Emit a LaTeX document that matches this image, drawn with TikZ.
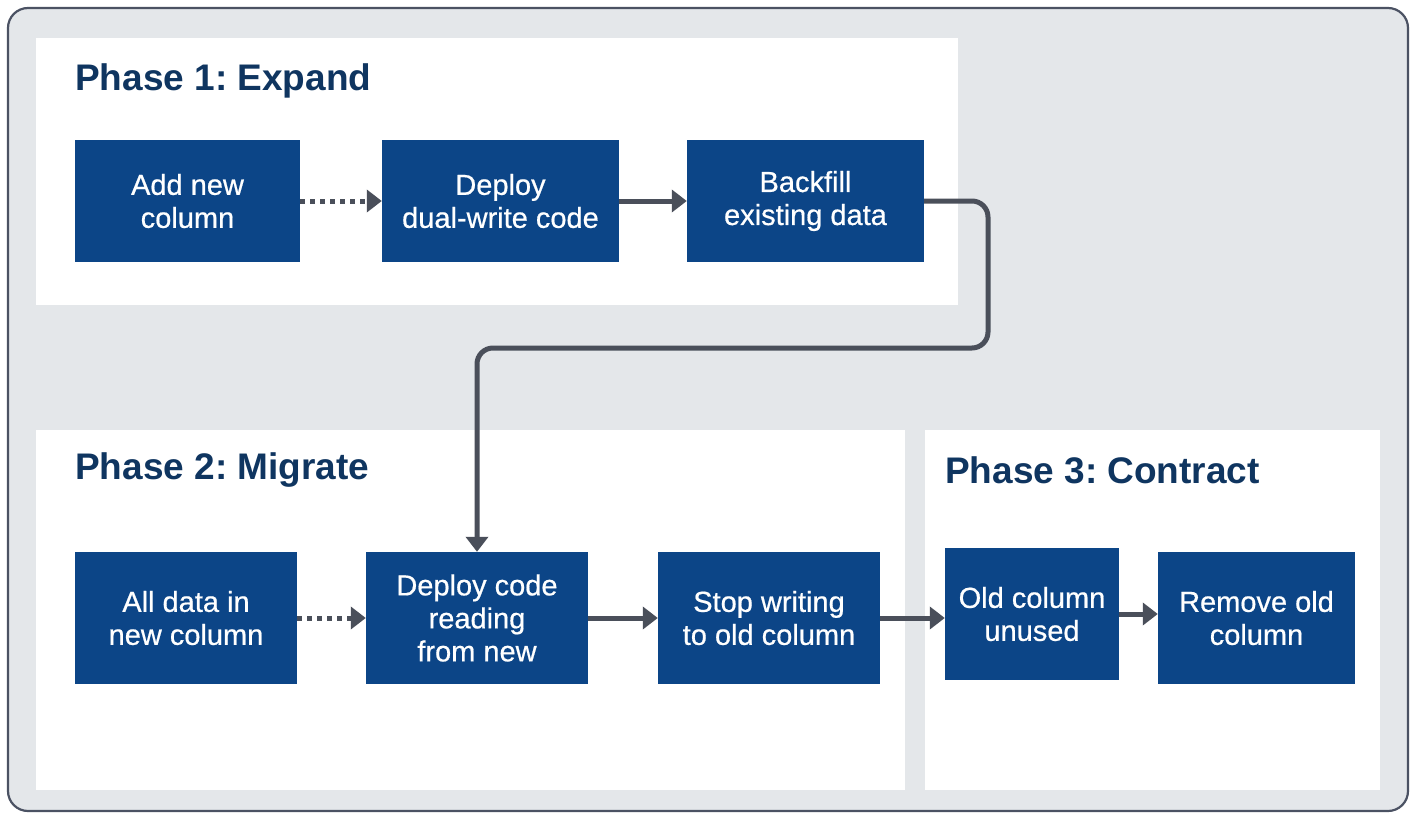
\documentclass[tikz,border=0pt]{standalone}
\usepackage{fontspec}
\setmainfont{Liberation Sans}
\newfontfamily\boxfont{Liberation Sans}[FakeBold=0.6]
\usetikzlibrary{arrows.meta}
\definecolor{bgc}{HTML}{E4E7EA}
\definecolor{framec}{HTML}{4B5263}
\definecolor{boxc}{HTML}{0C4587}
\definecolor{titlec}{HTML}{0F3560}
\definecolor{arrc}{HTML}{4A4F5A}
\tikzset{
  panel/.style={fill=white, draw=none},
  stepbox/.style={fill=boxc, draw=none, text=white, align=center, inner sep=0pt,
    font=\boxfont\fontsize{29}{33}\selectfont},
  phasetitle/.style={anchor=west, text=titlec, inner sep=0pt,
    font=\bfseries\fontsize{37}{40}\selectfont},
  flow/.style={draw=arrc, line width=5pt, -{Triangle[length=15pt,width=22pt]}},
  dotflow/.style={flow, dash pattern=on 5pt off 5pt},
}
\frenchspacing
\begin{document}
\begin{tikzpicture}[x=1pt,y=-1pt]
\useasboundingbox (0,0) rectangle (1416,816);
\fill[white] (0,0) rectangle (1416,816);
\draw[fill=bgc, draw=framec, line width=2.2pt, rounded corners=20pt] (8,8) rectangle (1408,811);
% panels
\fill[panel] (36,38) rectangle (958,305);
\fill[panel] (36,430) rectangle (905,790);
\fill[panel] (925,430) rectangle (1380,790);
% titles
\node[phasetitle] (t1) at (75,81) {Phase 1: Expand};
\node[phasetitle] (t2) at (75,470) {Phase 2: Migrate};
\node[phasetitle] (t3) at (945,470) {Phase 3: Contract};
% phase 1 boxes
\node[stepbox, minimum width=225pt, minimum height=122pt] (a1) at (187.5,201) {Add new\\column};
\node[stepbox, minimum width=237pt, minimum height=122pt] (a2) at (500.5,201) {Deploy\\dual-write code};
\node[stepbox, minimum width=237pt, minimum height=122pt] (a3) at (805.5,201) {Backfill\\existing data};
% phase 2 boxes
\node[stepbox, minimum width=222pt, minimum height=132pt] (b1) at (186,618) {All data in\\new column};
\node[stepbox, minimum width=222pt, minimum height=132pt] (b2) at (477,618) {Deploy code\\reading\\from new};
\node[stepbox, minimum width=222pt, minimum height=132pt] (b3) at (769,618) {Stop writing\\to old column};
% phase 3 boxes
\node[stepbox, minimum width=174pt, minimum height=132pt] (c1) at (1032,614) {Old column\\unused};
\node[stepbox, minimum width=197pt, minimum height=132pt] (c2) at (1256.5,618) {Remove old\\column};
% connectors
\draw[dotflow] (a1.east) -- (a2.west);
\draw[flow] (a2.east) -- (a3.west);
\draw[flow, rounded corners=16pt] (a3.east) -- (988,201) -- (988,348) -- (477,348) -- (b2.north);
\draw[dotflow] (b1.east) -- (b2.west);
\draw[flow] (b2.east) -- (b3.west);
\draw[flow] (b3.east) -- (c1.west |- b3.east);
\draw[flow] (c1.east) -- (c2.west |- c1.east);
\end{tikzpicture}
\end{document}
